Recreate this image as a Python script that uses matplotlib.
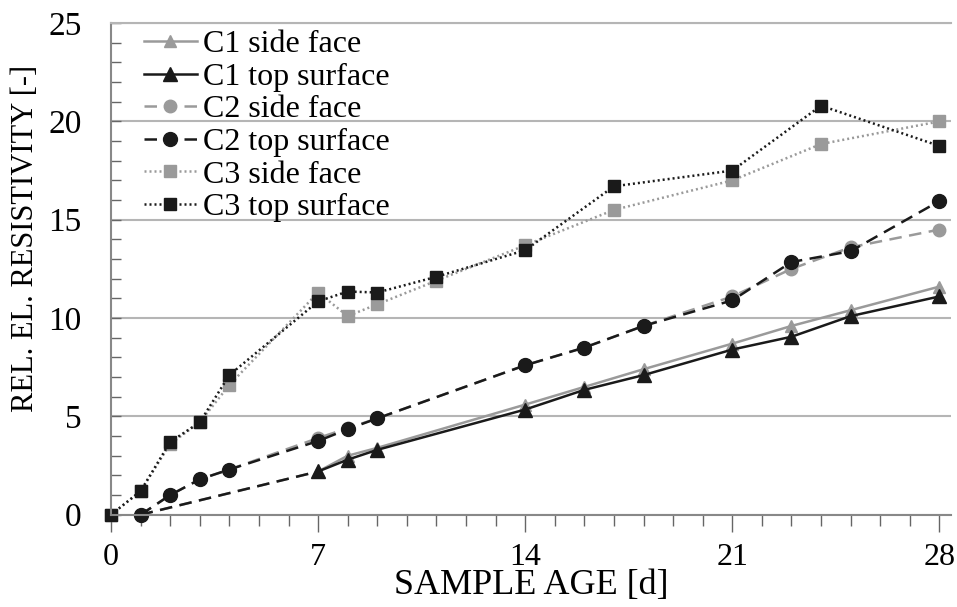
import matplotlib.pyplot as plt
from matplotlib.ticker import MultipleLocator

plt.rcParams['font.family'] = ['Liberation Serif', 'DejaVu Serif']

# data
c1_days = [1, 7, 8, 9, 14, 16, 18, 21, 23, 25, 28]
c1_side = [0, 2.2, 3.0, 3.4, 5.6, 6.5, 7.4, 8.7, 9.6, 10.4, 11.6]
c1_top = [0, 2.2, 2.8, 3.3, 5.35, 6.35, 7.1, 8.4, 9.05, 10.1, 11.1]

c2_days = [1, 2, 3, 4, 7, 8, 9, 14, 16, 18, 21, 23, 25, 28]
c2_side = [0, 1.0, 1.8, 2.3, 3.9, 4.4, 4.9, 7.6, 8.5, 9.6, 11.1, 12.5, 13.6, 14.5]
c2_top = [0, 1.0, 1.8, 2.3, 3.75, 4.35, 4.9, 7.6, 8.5, 9.6, 10.9, 12.85, 13.4, 15.95]

c3_days = [0, 1, 2, 3, 4, 7, 8, 9, 11, 14, 17, 21, 24, 28]
c3_side = [0, 1.2, 3.6, 4.7, 6.6, 11.3, 10.1, 10.7, 11.9, 13.7, 15.5, 17.0, 18.85, 20.0]
c3_top = [0, 1.2, 3.7, 4.7, 7.1, 10.85, 11.35, 11.3, 12.1, 13.45, 16.7, 17.5, 20.8, 18.75]

grey = '#9a9a9a'
black = '#1a1a1a'

fig = plt.figure(figsize=(9.57, 6.07), dpi=100)
ax = fig.add_axes([0.116, 0.152, 0.878, 0.810])

lw = 1.8
# C1: gap between day 1 and day 7 drawn dashed
ax.plot(c1_days[:2], c1_side[:2], color=grey, lw=lw, ls=(0, (5, 3)))
ax.plot(c1_days[:2], c1_top[:2], color=black, lw=lw, ls=(0, (5, 3)))
ax.plot(c1_days[1:], c1_side[1:], color=grey, lw=lw, marker='^', ms=9,
        label='C1 side face')
ax.plot(c1_days[1:], c1_top[1:], color=black, lw=lw, marker='^', ms=10,
        label='C1 top surface')

ax.plot(c2_days, c2_side, color=grey, lw=lw, ls=(0, (5, 3)), marker='o', ms=9,
        label='C2 side face')
ax.plot(c2_days, c2_top, color=black, lw=lw, ls=(0, (5, 3)), marker='o', ms=10,
        label='C2 top surface', clip_on=False)

ax.plot(c3_days, c3_side, color=grey, lw=lw, ls=(0, (0.8, 1.2)), marker='s', ms=8,
        label='C3 side face', clip_on=False)
ax.plot(c3_days, c3_top, color=black, lw=lw, ls=(0, (0.8, 1.2)), marker='s', ms=8,
        label='C3 top surface', clip_on=False)

ax.set_xlim(0, 28.4)
ax.set_ylim(0, 25)
ax.xaxis.set_major_locator(MultipleLocator(7))
ax.xaxis.set_minor_locator(MultipleLocator(1))
ax.yaxis.set_major_locator(MultipleLocator(5))
ax.yaxis.set_minor_locator(MultipleLocator(1))
ax.tick_params(axis='x', which='major', direction='out', length=12, width=1,
               color='#666666', labelsize=23, pad=8)
ax.tick_params(axis='x', which='minor', direction='out', length=8, width=1,
               color='#666666')
ax.tick_params(axis='y', which='both', direction='in', length=7, width=1,
               color='#666666', labelsize=24, pad=21)
ax.grid(axis='y', which='major', color='#b5b5b5', lw=1.5)
ax.set_axisbelow(True)
ax.spines['right'].set_visible(False)
ax.spines['top'].set_color('#b5b5b5')
ax.spines['top'].set_linewidth(1.5)
ax.spines['left'].set_color('#888888')
ax.spines['bottom'].set_color('#888888')
ax.spines['left'].set_linewidth(1.5)
ax.spines['bottom'].set_linewidth(1.5)

ax.set_xlabel('SAMPLE AGE [d]', fontsize=26, labelpad=-2)
ax.set_ylabel('REL. EL. RESISTIVITY [-]', fontsize=22)
ax.yaxis.set_label_coords(-0.084, 0.561)

ax.legend(loc='upper left', bbox_to_anchor=(0.024, 1.012), frameon=False,
          fontsize=23, handlelength=1.66, handletextpad=0.2, labelspacing=0.1,
          borderaxespad=0.0)

fig.savefig('out.png', dpi=100)
